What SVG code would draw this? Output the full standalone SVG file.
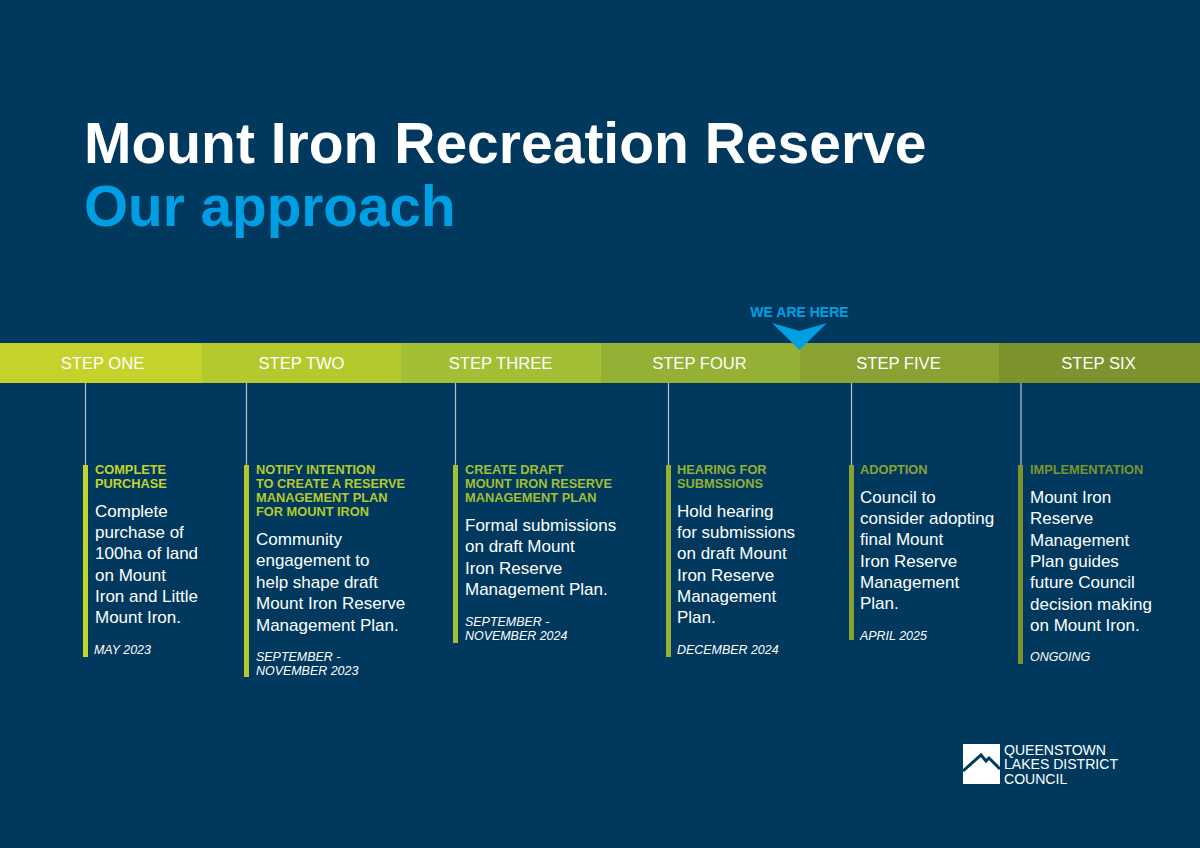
<svg xmlns="http://www.w3.org/2000/svg" width="1200" height="848" viewBox="0 0 1200 848">
<style>
text{font-family:"Liberation Sans",Arial,sans-serif}
.t{font-size:57px;font-weight:700}
.s{font-size:16.600px;fill:#fff;text-anchor:middle}
.h{font-size:12.800px;font-weight:700}
.b{font-size:17px;fill:#fff}
.d{font-size:12.450px;font-style:italic;fill:#fff}
.c{stroke:#b4c0cc;stroke-width:1.200;fill:none}
</style>
<rect width="1200" height="848" fill="#00395d"/>
<text class="t" x="84" y="163" fill="#fff">Mount Iron Recreation Reserve</text>
<text class="t" x="84" y="226" fill="#009fe3" style="font-size:56.700px">Our approach</text>
<g id="timeline">
<rect id="seg1" x="0" y="343" width="202" height="40" fill="#c5d22c"/>
<rect id="seg2" x="202" y="343" width="199" height="40" fill="#b5c92f"/>
<rect id="seg3" x="401" y="343" width="200" height="40" fill="#a2bf35"/>
<rect id="seg4" x="601" y="343" width="199" height="40" fill="#94b035"/>
<rect id="seg5" x="800" y="343" width="199" height="40" fill="#8aa133"/>
<rect id="seg6" x="999" y="343" width="201" height="40" fill="#7d932e"/>
<text class="s" x="102.500" y="369">STEP ONE</text>
<text class="s" x="301.500" y="369">STEP TWO</text>
<text class="s" x="500.500" y="369">STEP THREE</text>
<text class="s" x="699.500" y="369">STEP FOUR</text>
<text class="s" x="898.500" y="369">STEP FIVE</text>
<text class="s" x="1098.500" y="369">STEP SIX</text>
</g>
<g id="marker">
<text x="799.500" y="316.500" text-anchor="middle" font-size="14" font-weight="700" fill="#009fe3">WE ARE HERE</text>
<polygon points="772,323 799.500,331 827,323 799.500,350" fill="#009fe3"/>
</g>
<g id="connectors">
<line class="c" x1="85.500" y1="383" x2="85.500" y2="465"/>
<line class="c" x1="246.500" y1="383" x2="246.500" y2="465"/>
<line class="c" x1="455.500" y1="383" x2="455.500" y2="465"/>
<line class="c" x1="668.500" y1="383" x2="668.500" y2="465"/>
<line class="c" x1="851.500" y1="383" x2="851.500" y2="465"/>
<line class="c" x1="1021" y1="383" x2="1021" y2="465"/>
</g>
<g id="step1">
<rect x="83" y="465" width="5" height="192" fill="#c5d22c"/>
<text class="h" x="95" y="473.500" fill="#c5d22c"><tspan x="95">COMPLETE</tspan><tspan x="95" dy="14.300">PURCHASE</tspan></text>
<text class="b" y="517"><tspan x="95">Complete</tspan><tspan x="95" dy="21.200">purchase of</tspan><tspan x="95" dy="21.200">100ha of land</tspan><tspan x="95" dy="21.200">on Mount</tspan><tspan x="95" dy="21.200">Iron and Little</tspan><tspan x="95" dy="21.200">Mount Iron.</tspan></text>
<text class="d" x="94" y="654">MAY 2023</text>
</g>
<g id="step2">
<rect x="244" y="465" width="5" height="212" fill="#b5c92f"/>
<text class="h" y="473.500" fill="#b5c92f"><tspan x="256">NOTIFY INTENTION</tspan><tspan x="256" dy="14.300">TO CREATE A RESERVE</tspan><tspan x="256" dy="14.300">MANAGEMENT PLAN</tspan><tspan x="256" dy="14.300">FOR MOUNT IRON</tspan></text>
<text class="b" y="545"><tspan x="256">Community</tspan><tspan x="256" dy="21.400">engagement to</tspan><tspan x="256" dy="21.400">help shape draft</tspan><tspan x="256" dy="21.400">Mount Iron Reserve</tspan><tspan x="256" dy="21.400">Management Plan.</tspan></text>
<text class="d" y="661"><tspan x="256">SEPTEMBER -</tspan><tspan x="256" dy="14">NOVEMBER 2023</tspan></text>
</g>
<g id="step3">
<rect x="453" y="465" width="5" height="178" fill="#a2bf35"/>
<text class="h" y="473.500" fill="#a2bf35"><tspan x="465">CREATE DRAFT</tspan><tspan x="465" dy="14.300">MOUNT IRON RESERVE</tspan><tspan x="465" dy="14.300">MANAGEMENT PLAN</tspan></text>
<text class="b" y="531"><tspan x="465">Formal submissions</tspan><tspan x="465" dy="21.400">on draft Mount</tspan><tspan x="465" dy="21.400">Iron Reserve</tspan><tspan x="465" dy="21.400">Management Plan.</tspan></text>
<text class="d" y="626"><tspan x="465">SEPTEMBER -</tspan><tspan x="465" dy="14">NOVEMBER 2024</tspan></text>
</g>
<g id="step4">
<rect x="666" y="465" width="5" height="192" fill="#94b035"/>
<text class="h" y="473.500" fill="#94b035"><tspan x="677">HEARING FOR</tspan><tspan x="677" dy="14.300">SUBMSSIONS</tspan></text>
<text class="b" y="517"><tspan x="677">Hold hearing</tspan><tspan x="677" dy="21.200">for submissions</tspan><tspan x="677" dy="21.200">on draft Mount</tspan><tspan x="677" dy="21.200">Iron Reserve</tspan><tspan x="677" dy="21.200">Management</tspan><tspan x="677" dy="21.200">Plan.</tspan></text>
<text class="d" x="677" y="654">DECEMBER 2024</text>
</g>
<g id="step5">
<rect x="849" y="465" width="5" height="175" fill="#8aa133"/>
<text class="h" x="860" y="473.500" fill="#8aa133">ADOPTION</text>
<text class="b" y="503"><tspan x="860">Council to</tspan><tspan x="860" dy="21.200">consider adopting</tspan><tspan x="860" dy="21.200">final Mount</tspan><tspan x="860" dy="21.200">Iron Reserve</tspan><tspan x="860" dy="21.200">Management</tspan><tspan x="860" dy="21.200">Plan.</tspan></text>
<text class="d" x="860" y="640">APRIL 2025</text>
</g>
<g id="step6">
<rect x="1018" y="465" width="5" height="199" fill="#7d932e"/>
<text class="h" x="1030" y="473.500" fill="#7d932e">IMPLEMENTATION</text>
<text class="b" y="503"><tspan x="1030">Mount Iron</tspan><tspan x="1030" dy="21.300">Reserve</tspan><tspan x="1030" dy="21.300">Management</tspan><tspan x="1030" dy="21.300">Plan guides</tspan><tspan x="1030" dy="21.300">future Council</tspan><tspan x="1030" dy="21.300">decision making</tspan><tspan x="1030" dy="21.300">on Mount Iron.</tspan></text>
<text class="d" x="1030" y="661">ONGOING</text>
</g>
<g id="logo">
<rect x="963" y="744" width="37" height="40" fill="#fff"/>
<polyline points="963,771 981,755 986,761 989,758 1000,769" fill="none" stroke="#00395d" stroke-width="3"/>
<text font-size="14.050" fill="#fff" y="755"><tspan x="1004">QUEENSTOWN</tspan><tspan x="1004" dy="14.300">LAKES DISTRICT</tspan><tspan x="1004" dy="14.300">COUNCIL</tspan></text>
</g>
</svg>
